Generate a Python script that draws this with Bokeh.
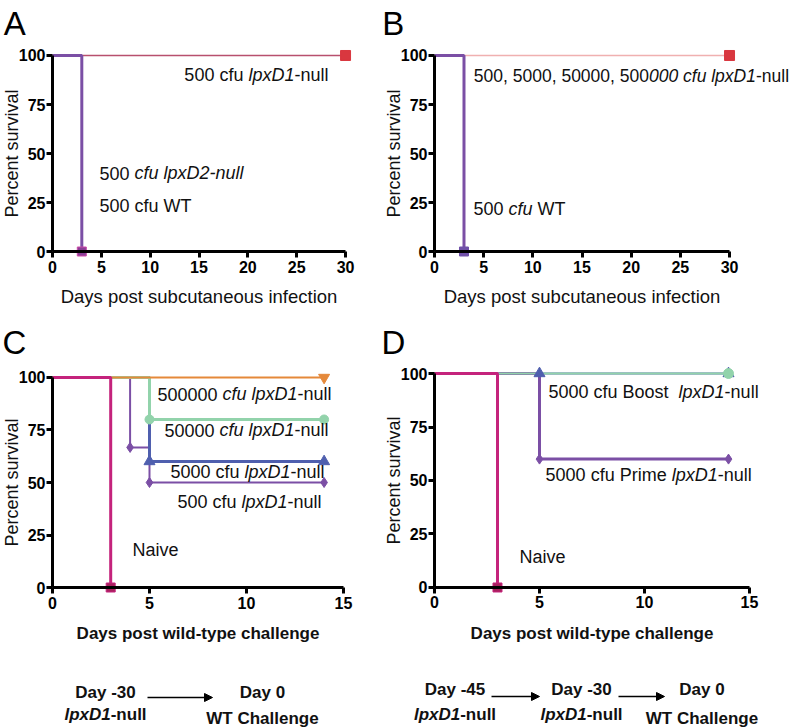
from bokeh.plotting import figure
from bokeh.layouts import column, row
from bokeh.models import Range1d, Label, Arrow, NormalHead, FixedTicker
from bokeh.embed import file_html
from bokeh.resources import INLINE

FONT = "Liberation Sans"

# ---------------- data ----------------
Y_TICKS = [0, 25, 50, 75, 100]
A_X_TICKS = [0, 5, 10, 15, 20, 25, 30]
C_X_TICKS = [0, 5, 10, 15]

# Panel A (days post subcutaneous infection, % survival)
A_D1_T = [0, 30]          # 500 cfu lpxD1-null
A_D1_S = [100, 100]
A_D1_MT = [30]
A_D1_MS = [100]
A_WT_T = [0, 3]           # 500 cfu lpxD2-null / 500 cfu WT
A_WT_S = [100, 0]
A_WT_MT = [3]
A_WT_MS = [0]

# Panel B
B_D1_T = [0, 30]          # 500 ... 500000 cfu lpxD1-null
B_D1_S = [100, 100]
B_D1_MT = [30]
B_D1_MS = [100]
B_WT_T = [0, 3]           # 500 cfu WT
B_WT_S = [100, 0]
B_WT_MT = [3]
B_WT_MS = [0]

# Panel C (days post wild-type challenge)
C_NAIVE_T = [0, 3]
C_NAIVE_S = [100, 0]
C_NAIVE_MT = [3]
C_NAIVE_MS = [0]
C_500_T = [0, 4, 5, 14]
C_500_S = [100, 66.7, 50, 50]
C_500_MT = [4, 5, 14]
C_500_MS = [66.7, 50, 50]
C_5000_T = [0, 5, 14]
C_5000_S = [100, 60, 60]
C_5000_MT = [5, 14]
C_5000_MS = [60, 60]
C_50000_T = [0, 5, 14]
C_50000_S = [100, 80, 80]
C_50000_MT = [5, 14]
C_50000_MS = [80, 80]
C_500000_T = [0, 14]
C_500000_S = [100, 100]
C_500000_MT = [14]
C_500000_MS = [100]

# Panel D
D_NAIVE_T = [0, 3]
D_NAIVE_S = [100, 0]
D_NAIVE_MT = [3]
D_NAIVE_MS = [0]
D_PRIME_T = [0, 5, 14]
D_PRIME_S = [100, 60, 60]
D_PRIME_MT = [5, 14]
D_PRIME_MS = [60, 60]
D_BOOST_T = [0, 14]
D_BOOST_S = [100, 100]
D_BOOST_TRI_T = [5, 14]
D_BOOST_TRI_S = [100, 100]
D_BOOST_CIR_T = [14]
D_BOOST_CIR_S = [100]

# Timelines
TL_C_DAYS = ["Day -30", "Day 0"]
TL_C_WHAT = [("lpxD1", "-null"), ("", "WT Challenge")]
TL_D_DAYS = ["Day -45", "Day -30", "Day 0"]
TL_D_WHAT = [("lpxD1", "-null"), ("lpxD1", "-null"), ("", "WT Challenge")]

# colours
PURPLE = "#7b4fa5"
MAGENTA = "#c4237c"
RED = "#d9373f"
ORANGE = "#e5893a"
GREEN = "#92d3ab"
BLUE = "#4f5fae"
TXT = "#111111"

# ---------------- text helpers ----------------
REG = {' ': 278, ',': 278, '-': 333, 'a': 556, 'c': 500, 'e': 556, 'f': 278, 'g': 556,
       'h': 556, 'i': 222, 'l': 222, 'm': 833, 'n': 556, 'o': 556, 'p': 556, 'r': 333,
       's': 500, 't': 278, 'u': 556, 'v': 500, 'x': 500, 'y': 500, 'B': 667, 'C': 722,
       'D': 722, 'N': 722, 'P': 667, 'T': 611, 'W': 944}
BLD = {' ': 278, ',': 278, '-': 333, 'a': 556, 'c': 556, 'e': 556, 'f': 333, 'g': 611,
       'h': 611, 'i': 278, 'l': 278, 'm': 889, 'n': 611, 'o': 611, 'p': 611, 'r': 389,
       's': 556, 't': 333, 'u': 611, 'v': 556, 'x': 556, 'y': 556, 'B': 722, 'C': 722,
       'D': 722, 'N': 722, 'P': 667, 'T': 611, 'W': 944}


def tw(text, bold, size):
    tab = BLD if bold else REG
    return sum(tab.get(ch, 556) for ch in text) / 1000.0 * size


def lift(p, y, px):
    """move a data y-coordinate up by px screen pixels"""
    r = p.y_range
    return y + px * (r.end - r.start) / p.height


def rich(p, x, y, segs, size, bold=False, align="left", color=TXT, up=0.3):
    y = lift(p, y, up * size)
    ws = [tw(t, bold, size) for t, _ in segs]
    off = 0.0 if align == "left" else -sum(ws) / 2.0
    for (t, it), w in zip(segs, ws):
        stripped = t.lstrip(" ")
        lead = tw(t[:len(t) - len(stripped)], bold, size)
        stripped = stripped.rstrip(" ")
        if stripped:
            style = ("bold " if bold else "") + ("italic" if it else "")
            style = style.strip() or "normal"
            p.add_layout(Label(x=x, y=y, x_offset=off + lead, text=stripped, text_font=FONT,
                               text_font_size=f"{size}px", text_font_style=style,
                               text_baseline="alphabetic", text_align="left",
                               text_color=color))
        off += w


def panel(width, height, xr, yr, xticks, xmax, xlabel, xbold):
    p = figure(width=width, height=height, x_range=Range1d(*xr), y_range=Range1d(*yr),
               output_backend="svg", toolbar_location=None, min_border=0)
    p.grid.visible = False
    p.outline_line_color = None
    p.background_fill_color = "white"
    p.border_fill_color = "white"
    for ax in (p.xaxis[0], p.yaxis[0]):
        ax.axis_line_width = 3
        ax.axis_line_color = "black"
        ax.major_tick_line_width = 3
        ax.major_tick_line_color = "black"
        ax.major_tick_out = 6
        ax.major_tick_in = 0
        ax.minor_tick_line_color = None
        ax.major_label_text_font = FONT
        ax.major_label_text_font_style = "bold"
        ax.major_label_text_font_size = "16px"
        ax.major_label_text_color = "black"
        ax.axis_label_text_font = FONT
        ax.axis_label_text_color = TXT
    p.xaxis.fixed_location = 0
    p.yaxis.fixed_location = 0
    p.xaxis.bounds = (0, xmax)
    p.yaxis.bounds = (0, 100)
    p.xaxis.ticker = FixedTicker(ticks=xticks)
    p.yaxis.ticker = FixedTicker(ticks=Y_TICKS)
    p.xaxis.major_label_standoff = 3
    p.yaxis.major_label_standoff = 1
    p.yaxis.axis_label = "Percent survival"
    p.yaxis.axis_label_text_font_size = "18px"
    p.yaxis.axis_label_text_font_style = "normal"
    p.yaxis.axis_label_standoff = -6
    p.xaxis.axis_label = xlabel
    if xbold:
        p.xaxis.axis_label_text_font_size = "17px"
        p.xaxis.axis_label_text_font_style = "bold"
        p.xaxis.axis_label_standoff = 12
    else:
        p.xaxis.axis_label_text_font_size = "18.5px"
        p.xaxis.axis_label_text_font_style = "normal"
        p.xaxis.axis_label_standoff = 10
    return p


def letter(p, x, y, t):
    p.add_layout(Label(x=x, y=lift(p, y, 11), text=t, text_font=FONT, text_font_size="33px",
                       text_font_style="normal", text_baseline="alphabetic",
                       text_align="left", text_color="black"))


ANN = 18  # annotation font size (px)

# ---------------- Panel A ----------------
pA = panel(380, 320, (-5.324, 33.58), (-35.2, 128.06), A_X_TICKS, 30,
           "Days post subcutaneous infection", False)
pA.step(A_D1_T, A_D1_S, mode="after", line_color="#b8506e", line_width=1.5)
pA.step(A_WT_T, A_WT_S, mode="after", line_color=PURPLE, line_width=3)
pA.scatter(A_D1_MT, A_D1_MS, marker="square", size=10, fill_color=RED, line_color=RED)
pA.scatter(A_WT_MT, A_WT_MS, marker="square", size=9, fill_color="#8a3f96", line_color="#cc4aa8")
rich(pA, 13.5, 87.2, [("500 cfu ", False), ("lpxD1", True), ("-null", False)], ANN)
rich(pA, 4.8, 37.1, [("500 ", False), ("cfu lpxD2-null", True)], ANN)
rich(pA, 4.8, 20.6, [("500 cfu WT", False)], ANN)
letter(pA, -5.0, 110.7, "A")

# ---------------- Panel B ----------------
pB = panel(416, 320, (-5.49, 36.81), (-35.2, 128.06), A_X_TICKS, 30,
           "Days post subcutaneous infection", False)
pB.step(B_D1_T, B_D1_S, mode="after", line_color="#f0b0b0", line_width=1.5)
pB.step(B_WT_T, B_WT_S, mode="after", line_color=PURPLE, line_width=3)
pB.scatter(B_D1_MT, B_D1_MS, marker="square", size=10, fill_color=RED, line_color=RED)
pB.scatter(B_WT_MT, B_WT_MS, marker="square", size=9, fill_color="#7050a8", line_color="#7050a8")
rich(pB, 4.0, 86.7, [("500, 5000, 50000, 500", False), ("000 cfu lpxD1", True), ("-null", False)], 17.5)
rich(pB, 3.97, 19.0, [("500 ", False), ("cfu", True), (" WT", False)], ANN)
letter(pB, -5.3, 110.7, "B")

# ---------------- Panel C ----------------
pC = panel(380, 324, (-2.680, 16.907), (-27.14, 127.14), C_X_TICKS, 15,
           "Days post wild-type challenge", True)
pC.step(C_500_T, C_500_S, mode="after", line_color=PURPLE, line_width=2)
pC.step(C_5000_T, C_5000_S, mode="after", line_color=BLUE, line_width=3)
pC.step(C_50000_T, C_50000_S, mode="after", line_color=GREEN, line_width=3)
pC.step(C_500000_T, C_500000_S, mode="after", line_color=ORANGE, line_width=2)
pC.step(C_NAIVE_T, C_NAIVE_S, mode="after", line_color=MAGENTA, line_width=3)
pC.scatter(C_500_MT, C_500_MS, marker="diamond", size=10, fill_color=PURPLE, line_color=PURPLE)
pC.scatter(C_5000_MT, C_5000_MS, marker="triangle", size=11, fill_color=BLUE, line_color=BLUE)
pC.scatter(C_50000_MT, C_50000_MS, marker="circle", size=9, fill_color=GREEN, line_color=GREEN)
pC.scatter(C_500000_MT, C_500000_MS, marker="inverted_triangle", size=11, fill_color=ORANGE, line_color=ORANGE)
pC.scatter(C_NAIVE_MT, C_NAIVE_MS, marker="square", size=9, fill_color="#a8205e", line_color="#c4237c")
rich(pC, 5.41, 89.4, [("500000 ", False), ("cfu lpxD1", True), ("-null", False)], ANN)
rich(pC, 5.77, 72.4, [("50000 ", False), ("cfu lpxD1", True), ("-null", False)], ANN)
rich(pC, 6.08, 52.5, [("5000 cfu ", False), ("lpxD1", True), ("-null", False)], ANN)
rich(pC, 6.44, 38.0, [("500 cfu ", False), ("lpxD1", True), ("-null", False)], ANN)
rich(pC, 4.12, 15.2, [("Naive", False)], ANN)
letter(pC, -2.58, 111.4, "C")

# ---------------- Panel D ----------------
pD = panel(416, 324, (-2.571, 17.238), (-26.64, 124.77), C_X_TICKS, 15,
           "Days post wild-type challenge", True)
pD.step(D_BOOST_T, D_BOOST_S, mode="after", line_color=BLUE, line_width=2)
pD.step(D_PRIME_T, D_PRIME_S, mode="after", line_color=PURPLE, line_width=3)
pD.step(D_BOOST_T, D_BOOST_S, mode="after", line_color=GREEN, line_width=2)
pD.step(D_NAIVE_T, D_NAIVE_S, mode="after", line_color=MAGENTA, line_width=3)
pD.scatter(D_PRIME_MT, D_PRIME_MS, marker="diamond", size=10, fill_color=PURPLE, line_color=PURPLE)
pD.scatter(D_BOOST_TRI_T, D_BOOST_TRI_S, marker="triangle", size=11, fill_color=BLUE, line_color=BLUE)
pD.scatter(D_BOOST_CIR_T, D_BOOST_CIR_S, marker="circle", size=10, fill_color=GREEN, line_color=GREEN)
pD.scatter(D_NAIVE_MT, D_NAIVE_MS, marker="square", size=9, fill_color="#a8205e", line_color="#c4237c")
rich(pD, 5.43, 88.9, [("5000 cfu Boost  ", False), ("lpxD1", True), ("-null", False)], ANN)
rich(pD, 5.29, 50.0, [("5000 cfu Prime ", False), ("lpxD1", True), ("-null", False)], ANN)
rich(pD, 4.05, 11.8, [("Naive", False)], ANN)
letter(pD, -2.52, 109.3, "D")

# ---------------- Timelines ----------------
pT = figure(width=796, height=84, x_range=Range1d(0, 796), y_range=Range1d(84, 0),
            output_backend="svg", toolbar_location=None, min_border=0,
            x_axis_location=None, y_axis_location=None)
pT.grid.visible = False
pT.outline_line_color = None

TL_C_X = [105, 262]
TL_C_ARROWS = [(147, 212)]
TL_D_X = [454.5, 581, 701.5]
TL_D_ARROWS = [(491, 539), (618, 664)]

for xs, days, what, arrows, day_y, arrow_y in (
        (TL_C_X, TL_C_DAYS, TL_C_WHAT, TL_C_ARROWS, 50, 53),
        (TL_D_X, TL_D_DAYS, TL_D_WHAT, TL_D_ARROWS, 47, 52)):
    for x, d, (it_part, rest) in zip(xs, days, what):
        rich(pT, x, day_y, [(d, False)], 17, bold=True, align="center", up=0.1)
        by = 72 if it_part else 76
        rich(pT, x, by, [(it_part, True), (rest, False)], 17, bold=True, align="center", up=0.1)
    for x0, x1 in arrows:
        pT.add_layout(Arrow(x_start=x0, y_start=arrow_y, x_end=x1, y_end=arrow_y,
                            line_width=1.5, line_color="black",
                            end=NormalHead(size=8, fill_color="black", line_color="black")))

layout = column(row(pA, pB), row(pC, pD), pT)
open("out.html", "w").write(file_html(layout, INLINE))
